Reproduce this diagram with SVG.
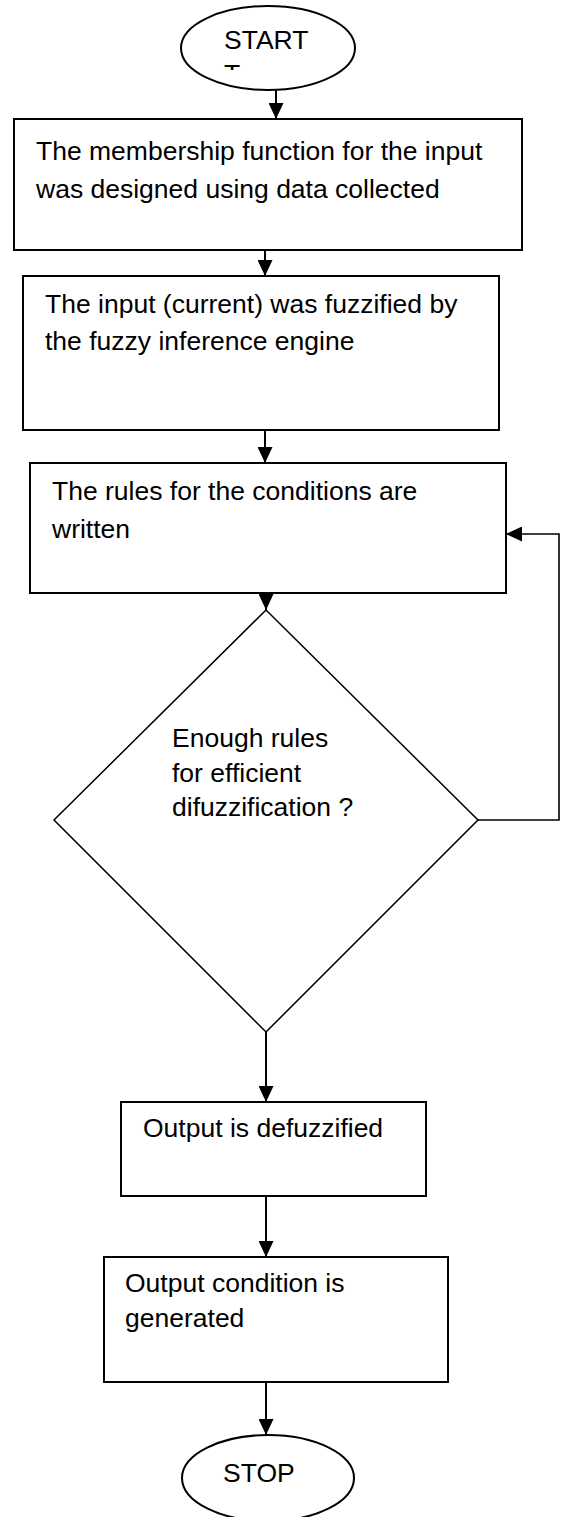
<svg xmlns="http://www.w3.org/2000/svg" width="563" height="1517" viewBox="0 0 563 1517">
<style>
.box{fill:#fff;stroke:#000;stroke-width:2}
.dia{fill:#fff;stroke:#000;stroke-width:1.5}
.t{font-family:"Liberation Sans",Arial,sans-serif;font-size:26.5px;fill:#000}
.c{fill:none;stroke:#000;stroke-width:2}
.fb{fill:none;stroke:#000;stroke-width:1.6}
</style>
<defs>
<marker id="ah" markerUnits="userSpaceOnUse" markerWidth="16" markerHeight="15" refX="16" refY="7.5" orient="auto">
<path d="M0,0 L16,7.5 L0,15 z" fill="#000"/>
</marker>
<clipPath id="clipT"><rect x="200" y="60" width="60" height="10"/></clipPath>
</defs>
<rect width="563" height="1517" fill="#fff"/>
<g id="connectors">
<line class="c" x1="276" y1="90" x2="276" y2="119" marker-end="url(#ah)"/>
<line class="c" x1="265" y1="250" x2="265" y2="276" marker-end="url(#ah)"/>
<line class="c" x1="265" y1="430" x2="265" y2="463" marker-end="url(#ah)"/>
<line class="c" x1="266" y1="593" x2="266" y2="610" marker-end="url(#ah)"/>
<line class="c" x1="266" y1="1032" x2="266" y2="1102" marker-end="url(#ah)"/>
<line class="c" x1="266" y1="1196" x2="266" y2="1257" marker-end="url(#ah)"/>
<line class="c" x1="266" y1="1382" x2="266" y2="1435" marker-end="url(#ah)"/>
<polyline class="fb" points="478,820 559,820 559,534 506,534" marker-end="url(#ah)"/>
</g>
<g id="start">
<ellipse class="box" cx="268" cy="48" rx="87" ry="42"/>
<text class="t" x="224" y="49" font-size="25">START</text>
<text class="t" x="224" y="83" font-size="25" clip-path="url(#clipT)">T</text>
</g>
<g id="step1">
<rect class="box" x="14" y="119" width="508" height="131"/>
<text class="t" x="36" y="160">The membership function for the input</text>
<text class="t" x="36" y="198">was designed using data collected</text>
</g>
<g id="step2">
<rect class="box" x="23" y="276" width="476" height="154"/>
<text class="t" x="45" y="313">The input (current) was fuzzified by</text>
<text class="t" x="45" y="350">the fuzzy inference engine</text>
</g>
<g id="step3">
<rect class="box" x="30" y="463" width="476" height="130"/>
<text class="t" x="52" y="500">The rules for the conditions are</text>
<text class="t" x="52" y="538">written</text>
</g>
<g id="decision">
<polygon class="dia" points="266,610 478,820 266,1032 54,820"/>
<text class="t" x="172" y="747">Enough rules</text>
<text class="t" x="172" y="782">for efficient</text>
<text class="t" x="172" y="816">difuzzification ?</text>
</g>
<g id="step4">
<rect class="box" x="121" y="1102" width="305" height="94"/>
<text class="t" x="143" y="1137">Output is defuzzified</text>
</g>
<g id="step5">
<rect class="box" x="104" y="1257" width="344" height="125"/>
<text class="t" x="125" y="1292">Output condition is</text>
<text class="t" x="125" y="1327">generated</text>
</g>
<g id="stop">
<ellipse class="box" cx="268" cy="1478" rx="86" ry="43"/>
<text class="t" x="223" y="1482">STOP</text>
</g>
</svg>
